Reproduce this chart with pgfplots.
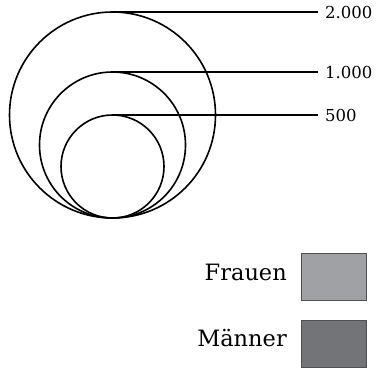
\documentclass[border=0pt]{standalone}
\usepackage{fontspec}
\setmainfont{DejaVu Serif}
\usepackage{pgfplots}
\pgfplotsset{compat=1.18}
\definecolor{frauen}{HTML}{A0A1A5}
\definecolor{maenner}{HTML}{737478}
\definecolor{rahmen}{HTML}{505050}
\begin{document}
\begin{tikzpicture}
\begin{axis}[width=382bp, height=371bp, scale only axis,
  xmin=0, xmax=382, ymin=0, ymax=371, y dir=reverse,
  axis lines=none, clip=false]
\path (rel axis cs:0,0) rectangle (rel axis cs:1,1);
% bubbles (centre, radius in px)
\addplot[only marks, mark=o, mark options={line width=1.6bp, draw=black}, mark size=103bp] coordinates {(112.5,115)};
\addplot[only marks, mark=o, mark options={line width=1.6bp, draw=black}, mark size=73bp] coordinates {(112.5,145)};
\addplot[only marks, mark=o, mark options={line width=1.6bp, draw=black}, mark size=51.5bp] coordinates {(112.5,166.5)};
% leader lines
\addplot[black, line width=1.6bp] coordinates {(112.5,12) (318,12)};
\addplot[black, line width=1.6bp] coordinates {(112.5,72) (318,72)};
\addplot[black, line width=1.6bp] coordinates {(112.5,115) (318,115)};
% legend swatches
\addplot[fill=frauen, draw=rahmen, line width=1bp] coordinates {(301,253) (366,253) (366,300) (301,300)} -- cycle;
\addplot[fill=maenner, draw=rahmen, line width=1bp] coordinates {(301,320) (366,320) (366,367) (301,367)} -- cycle;
\node[anchor=west, inner sep=0, font=\fontsize{16.5bp}{18bp}\selectfont] at (axis cs:325,12) {2.000};
\node[anchor=west, inner sep=0, font=\fontsize{16.5bp}{18bp}\selectfont] at (axis cs:325,72) {1.000};
\node[anchor=west, inner sep=0, font=\fontsize{16.5bp}{18bp}\selectfont] at (axis cs:325,115) {500};
\node[anchor=base east, inner sep=0, font=\fontsize{22.5bp}{24bp}\selectfont] at (axis cs:287,280) {Frauen};
\node[anchor=base east, inner sep=0, font=\fontsize{22.5bp}{24bp}\selectfont] at (axis cs:287,346.5) {Männer};
\end{axis}
\end{tikzpicture}
\end{document}
